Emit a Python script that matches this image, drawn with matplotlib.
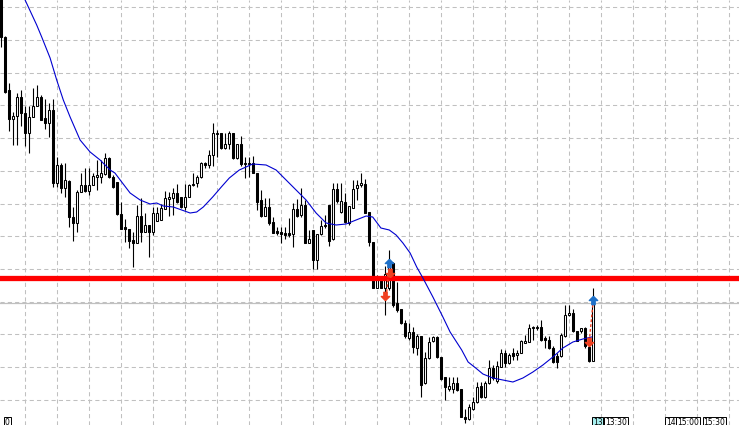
import numpy as np
import matplotlib.pyplot as plt
from matplotlib.path import Path

# Bougies (valeurs en points)
opens = [440, 388, 335, 306, 309, 328, 312, 292, 308, 319,
         328, 307, 302, 315, 242, 260, 237, 244, 208, 202,
         233, 240, 234, 240, 248, 248, 251, 267, 248, 243,
         211, 198, 196, 185, 182, 209, 193, 200, 193, 204,
         205, 216, 226, 227, 232, 228, 218, 228, 240, 242,
         248, 262, 260, 270, 291, 292, 277, 281, 292, 267,
         281, 261, 261, 262, 252, 225, 209, 218, 203, 194,
         193, 192, 192, 191, 216, 210, 220, 182, 195, 165,
         191, 200, 220, 186, 236, 213, 223, 202, 217, 237,
         240, 241, 213, 183, 137, 146, 137, 137, 162, 122,
         116, 102, 87, 93, 77, 89, 42, 67, 84, 88,
         68, 48, 36, 36, 42, 36, 8, 6, 16, 23,
         39, 28, 42, 57, 44, 58, 72, 62, 72, 70,
         72, 82, 83, 97, 97, 98, 87, 85, 77, 69,
         69, 89, 110, 112, 94, 94, 97, 78, 64]
highs = [450, 389, 342, 313, 332, 335, 319, 319, 337, 340,
         330, 326, 322, 326, 268, 262, 262, 245, 218, 235,
         252, 257, 257, 252, 265, 265, 272, 268, 250, 243,
         223, 206, 196, 193, 220, 227, 212, 200, 218, 218,
         221, 234, 233, 237, 241, 228, 241, 241, 252, 250,
         263, 263, 275, 302, 295, 292, 292, 294, 292, 281,
         289, 268, 268, 269, 252, 235, 227, 227, 208, 198,
         198, 198, 207, 222, 226, 237, 225, 195, 195, 191,
         205, 210, 220, 242, 242, 242, 232, 219, 245, 245,
         252, 246, 213, 183, 150, 146, 159, 175, 163, 143,
         116, 105, 102, 98, 91, 89, 73, 88, 89, 89,
         68, 48, 48, 48, 48, 36, 16, 21, 28, 43,
         43, 44, 65, 60, 64, 76, 75, 72, 77, 75,
         85, 90, 101, 99, 100, 105, 89, 89, 79, 72,
         92, 120, 120, 116, 94, 97, 98, 87, 137]
lows = [378, 332, 294, 280, 280, 299, 279, 272, 308, 319,
        305, 296, 288, 238, 238, 232, 228, 198, 184, 193,
        233, 233, 230, 240, 235, 242, 250, 247, 237, 210,
        196, 183, 177, 158, 182, 183, 193, 168, 190, 204,
        205, 216, 209, 210, 222, 217, 215, 228, 239, 238,
        247, 257, 257, 259, 268, 276, 276, 276, 266, 266,
        259, 247, 248, 252, 215, 208, 209, 200, 192, 190,
        182, 186, 188, 178, 208, 208, 182, 182, 156, 156,
        190, 197, 179, 185, 222, 212, 202, 200, 217, 225,
        238, 212, 179, 137, 137, 137, 110, 135, 118, 113,
        101, 87, 85, 72, 70, 28, 41, 66, 83, 67,
        45, 25, 34, 32, 34, 8, 2, 5, 15, 22,
        27, 27, 41, 45, 42, 58, 58, 61, 65, 65,
        72, 82, 83, 85, 95, 84, 77, 76, 62, 57,
        68, 88, 109, 93, 84, 92, 77, 63, 64]
closes = [388, 333, 306, 309, 328, 312, 292, 308, 319, 328,
          305, 302, 315, 242, 260, 237, 245, 208, 202, 233,
          240, 234, 240, 249, 250, 252, 267, 248, 238, 211,
          196, 196, 184, 182, 209, 193, 200, 193, 212, 212,
          217, 227, 228, 232, 223, 218, 228, 240, 241, 248,
          262, 260, 270, 292, 292, 277, 281, 292, 267, 281,
          261, 262, 262, 252, 223, 209, 218, 202, 192, 192,
          191, 190, 190, 216, 209, 220, 182, 186, 165, 191,
          199, 199, 184, 236, 224, 224, 203, 219, 236, 240,
          242, 212, 183, 137, 146, 137, 151, 159, 120, 115,
          102, 89, 93, 78, 89, 40, 67, 83, 88, 68,
          46, 38, 39, 42, 35, 8, 6, 18, 23, 38,
          28, 42, 57, 47, 59, 72, 62, 70, 69, 72,
          84, 84, 97, 98, 98, 85, 85, 77, 63, 63,
          90, 110, 112, 94, 84, 97, 79, 64, 123]

ma_idx = [5.6, 8.85, 10.1, 12.2, 13.85, 15.5, 17.2, 19.7, 22.2, 24.7,
          27.2, 28.4, 30.1, 32.2, 34.7, 37.2, 38.85, 40.5, 43, 45.1,
          47.2, 48.85, 50.5, 52.85, 55, 57, 59.5, 62.85, 66.2, 68.7,
          71.2, 73.7, 76.2, 78.7, 81.2, 83.7, 86.2, 88.7, 91.2, 92.85,
          94.9, 97, 98.7, 100.4, 102.2, 103.85, 105.4, 107.9, 110.4, 112.2,
          115.1, 116.7, 118.6, 120.4, 122.9, 125.4, 127.9, 130.4, 132.9, 135.4,
          137.9, 140.4, 142.9, 145.4, 147.6]
ma_val = [428, 400, 388, 367, 345, 325, 308, 285, 273, 265,
          255, 252, 243, 232, 225, 221, 222, 219, 218, 215,
          212, 213, 218, 228, 238, 247, 255, 261, 260, 255,
          245, 235, 225, 212, 202, 200, 201, 205, 209, 208,
          197, 195, 190, 182, 172, 158, 147, 128, 108, 93,
          75, 63, 57, 51, 47, 45, 43, 47, 53, 60,
          68, 77, 83, 86, 88]

niveau_rouge = 147.5
ligne_bid = 121.7

# Ordres (fleches)
achat_idx = [97, 148]
achat_prix = [162, 125]
cloture_idx = [97.2, 96, 147]
cloture_prix = [152, 129, 83]
trait_idx = [[97, 96.3], [148, 147]]
trait_prix = [[160, 131], [125, 84]]

# Etiquettes de temps en bas
labels_temps = ['0', '13', '13:30', '14', '15:00', '15:30']
labels_x = [2.1, 147.9, 151.0, 166.2, 169.0, 175.6]

fig = plt.figure(figsize=(7.39, 4.25), dpi=100)
ax = fig.add_axes([0, 0, 1, 1])
ax.set_xlim(-0.325, 184.425)
ax.set_ylim(0, 425)

# grille pointillee
ax.set_xticks(np.arange(5.925, 184, 8))
ax.set_yticks(np.arange(417.7, 0, -32.72))
ax.tick_params(length=0, labelbottom=False, labelleft=False)
ax.grid(True, color='#c0c0c0', linestyle=(0, (4, 3)), linewidth=0.75)
ax.set_axisbelow(True)
for s in ax.spines.values():
    s.set_visible(False)

x = np.arange(len(opens))
o = np.array(opens)
c = np.array(closes)
couleurs = np.where(c >= o, 'white', 'black')

ax.vlines(x, lows, highs, color='black', linewidth=0.8, zorder=2)
ax.bar(x, c - o, bottom=o, width=0.5, color=couleurs, edgecolor='black',
       linewidth=0.75, zorder=3)

ax.axhline(ligne_bid, color='#c0c0c0', linewidth=0.9, zorder=1)
ax.axhline(niveau_rouge, color='#ff0000', linewidth=3.8, zorder=4)
ax.plot(ma_idx, ma_val, color='#0000d0', linewidth=0.8, zorder=5)

# fleches des ordres
fleche_haut = Path([(0, 1), (1, 0), (0.4, 0), (0.4, -1), (-0.4, -1), (-0.4, 0), (-1, 0), (0, 1)])
fleche_bas = Path([(0, -1), (1, 0), (0.4, 0), (0.4, 1), (-0.4, 1), (-0.4, 0), (-1, 0), (0, -1)])
for xs, ys in zip(trait_idx, trait_prix):
    ax.plot(xs, ys, color='#f04020', linestyle=(0, (2, 1.5)), linewidth=1, zorder=6)
ax.plot(achat_idx, achat_prix, linestyle='none', marker=fleche_haut, markersize=6,
        color='#1e70c8', zorder=7)
ax.plot(cloture_idx, cloture_prix, linestyle='none', marker=fleche_bas, markersize=6,
        color='#f04020', zorder=7)

# etiquettes de temps
tr = ax.get_xaxis_transform()
for lab, lx in zip(labels_temps, labels_x):
    fond = '#a8f0f0' if lab == '13' else 'white'
    ha = 'right' if lab == '0' else 'left'
    ax.text(lx, 0.0155, lab, transform=tr, ha=ha, va='top', fontsize=5.5,
            bbox=dict(boxstyle='square,pad=0.12', fc=fond, ec='black', lw=0.7),
            zorder=8, clip_on=False)

plt.savefig('out.png', dpi=100)
